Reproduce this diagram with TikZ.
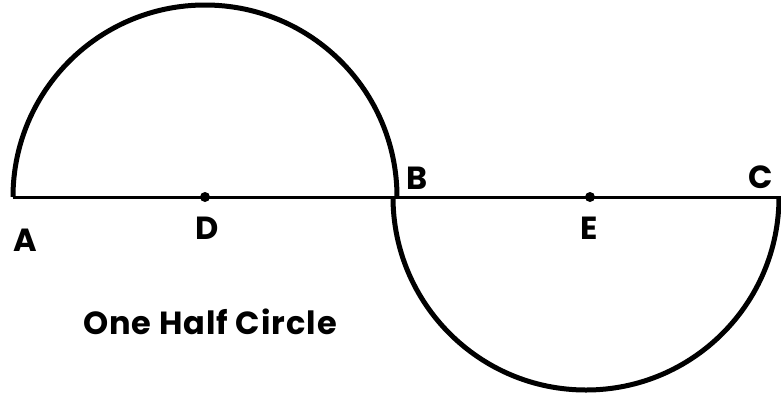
\documentclass[tikz,border=0pt]{standalone}
\usepackage{fontspec}
\setmainfont{Poppins}
\begin{document}
\begin{tikzpicture}[x=1pt,y=-1pt,
  lbl/.style={font=\fontsize{32}{34}\selectfont\bfseries, inner sep=0pt},
  dotm/.style={circle,fill=black,inner sep=0pt,minimum size=10pt},
  arcline/.style={line width=5pt},
  baseline/.style={line width=3pt}]
\useasboundingbox (0,0) rectangle (781,400);
\coordinate (A) at (13,197);
\coordinate (B) at (397,197);
\coordinate (C) at (790,197);
\node[dotm] (D) at (205,197) {};
\node[dotm] (E) at (590,197) {};
\draw[baseline] (A) -- (C);
\draw[arcline] (A) arc[start angle=180, end angle=360, radius=192];
\draw[arcline] (B) ++(-4,0) arc[start angle=180, end angle=0, radius=193];
\node[lbl] (la) at (25,240) {A};
\node[lbl] (ld) at (207,228) {D};
\node[lbl] (lb) at (417,178) {B};
\node[lbl] (le) at (589,228) {E};
\node[lbl] (lc) at (761,177) {C};
\node[font=\fontsize{32}{34}\selectfont\bfseries\addfontfeatures{LetterSpace=3}, inner sep=0pt] (title) at (210,322) {One Half Circle};
\end{tikzpicture}
\end{document}
